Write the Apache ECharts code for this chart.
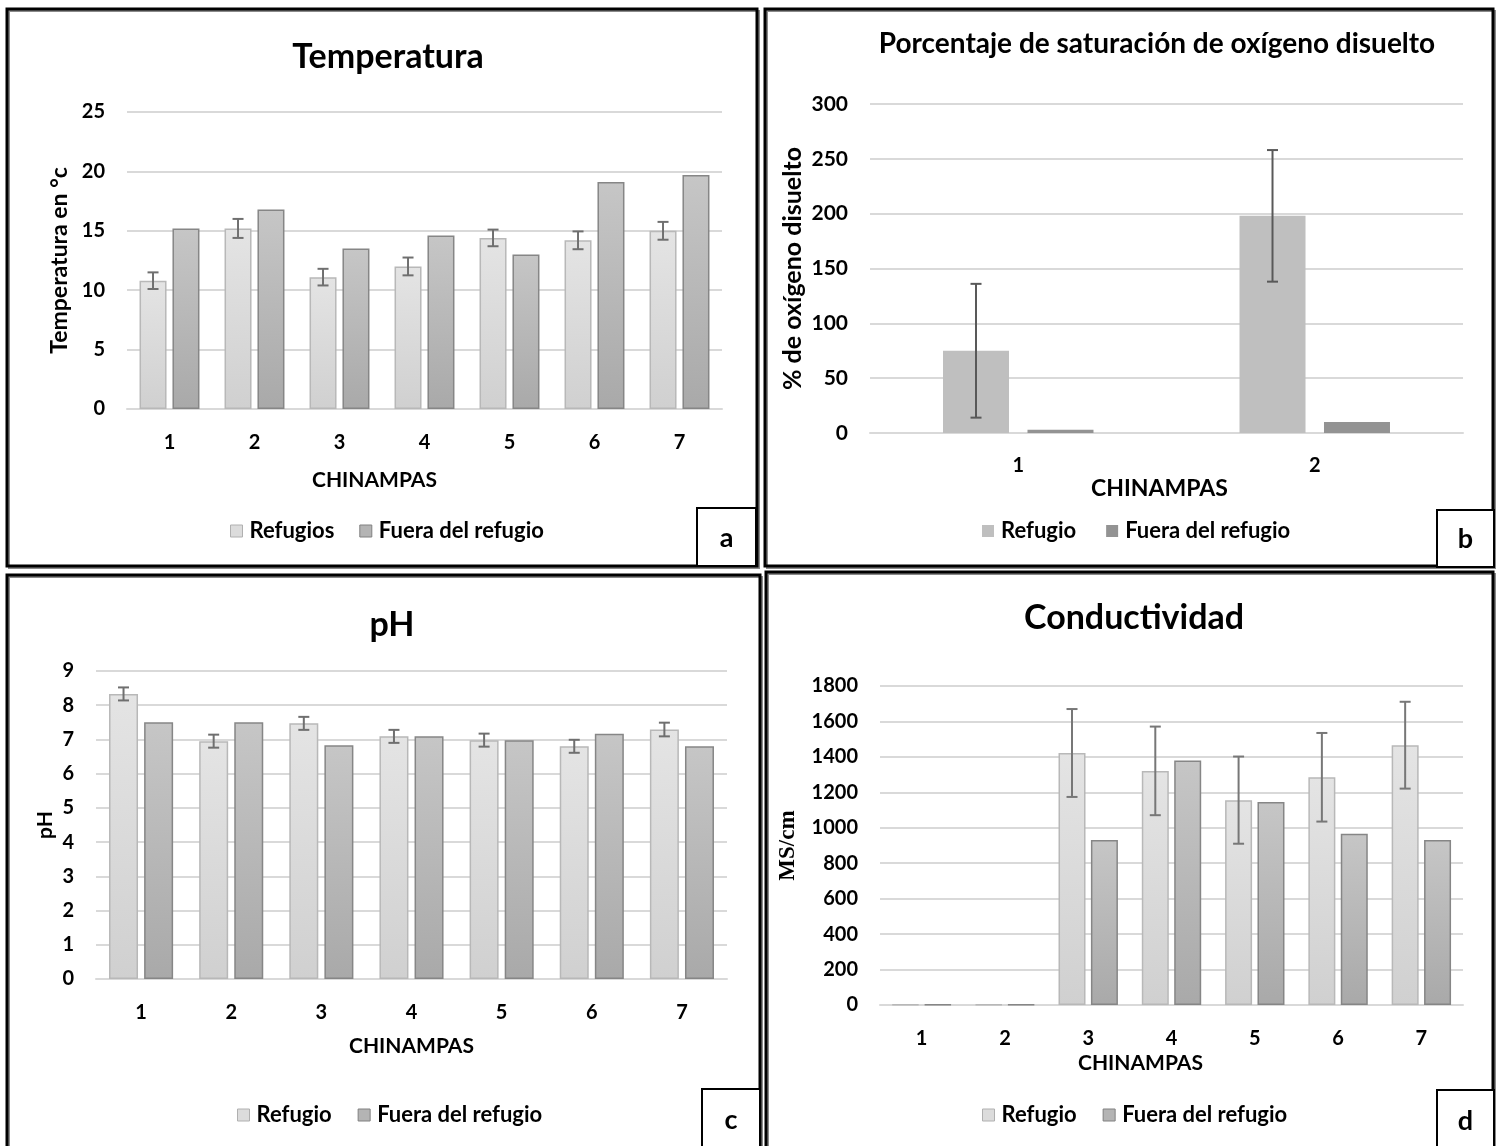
<!DOCTYPE html>
<html>
<head>
<meta charset="utf-8">
<script src="https://cdn.jsdelivr.net/npm/echarts@6/dist/echarts.min.js"></script>
<style>
  html, body { margin: 0; padding: 0; background: #fff; }
  #chart { width: 1496px; height: 1146px; }
</style>
</head>
<body>
<div id="chart"></div>
<script>
// ---------------- DATA ----------------
const chinampas7 = ['1', '2', '3', '4', '5', '6', '7'];
const chinampas2 = ['1', '2'];

// a) Temperatura
const tempRefugios = [10.8, 15.2, 11.1, 12.0, 14.4, 14.2, 15.0];
const tempRefugiosErr = [0.7, 0.8, 0.7, 0.75, 0.7, 0.75, 0.75];
const tempFuera = [15.2, 16.8, 13.5, 14.6, 13.0, 19.1, 19.7];
const tempTicks = { min: 0, max: 25, interval: 5 };

// b) Porcentaje de saturación de oxígeno disuelto
const oxiRefugio = [75, 198];
const oxiRefugioErr = [61, 60];
const oxiFuera = [3, 10];
const oxiTicks = { min: 0, max: 300, interval: 50 };

// c) pH
const phRefugio = [8.33, 6.95, 7.47, 7.09, 6.98, 6.80, 7.29];
const phRefugioErr = [0.19, 0.19, 0.19, 0.19, 0.19, 0.19, 0.2];
const phFuera = [7.5, 7.5, 6.83, 7.09, 6.98, 7.17, 6.8];
const phTicks = { min: 0, max: 9, interval: 1 };

// d) Conductividad
const condRefugio = [3, 3, 1422, 1321, 1156, 1285, 1466];
const condRefugioErr = [0, 0, 248, 250, 246, 250, 245];
const condFuera = [3, 3, 931, 1379, 1146, 966, 931];
const condTicks = { min: 0, max: 1800, interval: 200 };

// ---------------- STYLE ----------------
const FONT = 'Lato, "Open Sans", sans-serif';
const GRID_COLOR = '#d9d9d9';

function grad(top, bottom) {
  return new echarts.graphic.LinearGradient(0, 0, 0, 1, [
    { offset: 0, color: top }, { offset: 1, color: bottom }
  ]);
}
const lightBar = () => ({ color: grad('#e4e4e4', '#d0d0d0'), borderColor: '#b8b8b8', borderWidth: 1.5 });
const darkBar = () => ({ color: grad('#c6c6c6', '#a9a9a9'), borderColor: '#868686', borderWidth: 1.5 });

const option = {
  animation: false,
  backgroundColor: '#fff',
  title: [], legend: [], grid: [], xAxis: [], yAxis: [], series: [], graphic: []
};

function addPanel(p) {
  const gi = option.grid.length;
  option.grid.push({ left: p.grid[0], top: p.grid[1], width: p.grid[2], height: p.grid[3], outerBoundsMode: 'none', containLabel: false });
  option.title.push({
    text: p.title, left: p.titlePos[0], top: p.titlePos[1], textAlign: 'center',
    textStyle: { fontFamily: FONT, fontWeight: p.titleWeight || 'bold', fontSize: p.titleSize, color: '#000' }
  });
  option.xAxis.push({
    type: 'category', gridIndex: gi, data: p.cats,
    name: 'CHINAMPAS', nameLocation: 'middle', nameGap: p.xNameGap,
    nameTextStyle: { fontFamily: FONT, fontWeight: 'bold', fontSize: p.xNameSize, color: '#000', padding: p.xNamePad },
    axisLine: { show: true, lineStyle: { color: GRID_COLOR, width: 2 } },
    axisTick: { show: false },
    axisLabel: { fontFamily: FONT, fontWeight: 'bold', fontSize: 20, color: '#000', margin: p.xLabelMargin }
  });
  option.yAxis.push({
    type: 'value', gridIndex: gi, min: p.ticks.min, max: p.ticks.max, interval: p.ticks.interval,
    name: p.yName, nameLocation: 'middle', nameGap: p.yNameGap,
    nameTextStyle: { fontFamily: p.yNameFont || FONT, fontWeight: 'bold', fontSize: p.yNameSize, color: '#000' },
    axisLine: { show: false }, axisTick: { show: false },
    splitLine: { lineStyle: { color: GRID_COLOR, width: 2 } },
    axisLabel: { fontFamily: FONT, fontWeight: 'bold', fontSize: p.yLabelSize, color: '#000', margin: 22,
      formatter: v => String(v) }
  });
  option.series.push({
    type: 'bar', name: p.names[0], xAxisIndex: gi, yAxisIndex: gi, data: p.s1,
    barWidth: p.barWidth, barGap: p.barGap, itemStyle: p.style1, z: 2
  });
  option.series.push({
    type: 'bar', name: p.names[1], xAxisIndex: gi, yAxisIndex: gi, data: p.s2,
    barWidth: p.barWidth, barGap: p.barGap, itemStyle: p.style2, z: 2
  });
  const gapPx = p.barWidth * parseFloat(p.barGap) / 100;
  const off = (p.barWidth + gapPx) / 2;
  const errData = p.s1.map((v, i) => [i, v - p.err[i], v + p.err[i]]);
  option.series.push({
    type: 'custom', name: 'err' + gi, xAxisIndex: gi, yAxisIndex: gi, z: 5,
    encode: { x: 0, y: [1, 2] },
    data: errData,
    renderItem: function (params, api) {
      const i = api.value(0), lo = api.value(1), hi = api.value(2);
      if (hi - lo <= 0) return;
      const a = api.coord([i, hi]), b = api.coord([i, lo]);
      const x = a[0] - off, c = 5.5;
      const st = { stroke: p.errColor, lineWidth: 2 };
      return {
        type: 'group', children: [
          { type: 'line', shape: { x1: x, y1: a[1], x2: x, y2: b[1] }, style: st },
          { type: 'line', shape: { x1: x - c, y1: a[1], x2: x + c, y2: a[1] }, style: st },
          { type: 'line', shape: { x1: x - c, y1: b[1], x2: x + c, y2: b[1] }, style: st }
        ]
      };
    }
  });
  option.legend.push({
    left: p.legendPos[0], top: p.legendPos[1], itemWidth: 12, itemHeight: 12, itemGap: p.legendGap,
    icon: 'rect', selectedMode: false,
    textStyle: { fontFamily: FONT, fontWeight: 'bold', fontSize: 22, color: '#000', padding: [0, 0, 0, 2] },
    data: [
      { name: p.names[0], itemStyle: p.legendStyle1 },
      { name: p.names[1], itemStyle: p.legendStyle2 }
    ]
  });
  // panel frame
  const f = p.frame;
  option.graphic.push({ type: 'rect', shape: { x: f[0] + 2, y: f[1] + 2, width: f[2], height: f[3] }, style: { fill: null, stroke: '#8a8a8a', lineWidth: 2 }, z: 0, silent: true });
  option.graphic.push({ type: 'rect', shape: { x: f[0], y: f[1], width: f[2], height: f[3] }, style: { fill: null, stroke: '#000', lineWidth: 3 }, z: 1, silent: true });
  const L = p.letterBox;
  option.graphic.push({ type: 'rect', shape: { x: L[0], y: L[1], width: L[2], height: L[3] }, style: { fill: '#fff', stroke: '#000', lineWidth: 2 }, z: 2, silent: true });
  option.graphic.push({ type: 'text', x: L[0] + L[2] / 2, y: L[1] + L[3] / 2 + 1, style: { text: p.letter, fontFamily: FONT, fontWeight: 'bold', fontSize: 27, fill: '#000', align: 'center', verticalAlign: 'middle' }, z: 3, silent: true });
}

addPanel({
  title: 'Temperatura', titlePos: [383, 35], titleSize: 34,
  grid: [127, 112, 595, 297], cats: chinampas7, ticks: tempTicks,
  yName: 'Temperatura en °c', yNameGap: 56, yNameSize: 23, yLabelSize: 20,
  xNameGap: 61, xNameSize: 21, xNamePad: [0, 100, 0, 0], xLabelMargin: 24,
  names: ['Refugios', 'Fuera del refugio'], s1: tempRefugios, err: tempRefugiosErr, s2: tempFuera,
  barWidth: 27, barGap: '22%', style1: lightBar(), style2: darkBar(), errColor: '#6f6f6f',
  legendPos: [225, 515], legendGap: 25,
  legendStyle1: { color: '#dcdcdc', borderColor: '#b0b0b0', borderWidth: 1 },
  legendStyle2: { color: '#b4b4b4', borderColor: '#808080', borderWidth: 1 },
  frame: [7, 9, 750, 557], letterBox: [697, 508, 59, 58], letter: 'a'
});

addPanel({
  title: 'Porcentaje de saturación de oxígeno disuelto', titlePos: [1152, 25], titleSize: 28, titleWeight: 'bold',
  grid: [870, 104, 593, 329], cats: chinampas2, ticks: oxiTicks,
  yName: '% de oxígeno disuelto', yNameGap: 65, yNameSize: 25, yLabelSize: 21,
  xNameGap: 43, xNameSize: 23, xNamePad: [0, 14, 0, 0], xLabelMargin: 23,
  names: ['Refugio', 'Fuera del refugio'], s1: oxiRefugio, err: oxiRefugioErr, s2: oxiFuera,
  barWidth: 66, barGap: '28%', style1: { color: '#bfbfbf' }, style2: { color: '#939393' }, errColor: '#595959',
  legendPos: [977, 515], legendGap: 30,
  legendStyle1: { color: '#bfbfbf', borderWidth: 0 },
  legendStyle2: { color: '#939393', borderWidth: 0 },
  frame: [765, 9, 728, 557], letterBox: [1437, 510, 57, 57], letter: 'b'
});

addPanel({
  title: 'pH', titlePos: [387, 603], titleSize: 34,
  grid: [96, 671, 631, 308], cats: chinampas7, ticks: phTicks,
  yName: 'pH', yNameGap: 40, yNameSize: 21, yLabelSize: 20,
  xNameGap: 57, xNameSize: 21, xNamePad: [0, 0, 0, 0], xLabelMargin: 24,
  names: ['Refugio', 'Fuera del refugio'], s1: phRefugio, err: phRefugioErr, s2: phFuera,
  barWidth: 29, barGap: '21%', style1: lightBar(), style2: darkBar(), errColor: '#6f6f6f',
  legendPos: [232, 1099], legendGap: 26,
  legendStyle1: { color: '#dcdcdc', borderColor: '#b0b0b0', borderWidth: 1 },
  legendStyle2: { color: '#b4b4b4', borderColor: '#808080', borderWidth: 1 },
  frame: [7, 575, 753, 580], letterBox: [702, 1089, 58, 60], letter: 'c'
});

addPanel({
  title: 'Conductividad', titlePos: [1129, 596], titleSize: 34,
  grid: [880, 686, 583, 319], cats: chinampas7, ticks: condTicks,
  yName: 'MS/cm', yNameGap: 80, yNameSize: 23, yNameFont: '"Liberation Serif", "DejaVu Serif", serif', yLabelSize: 20,
  xNameGap: 48, xNameSize: 21, xNamePad: [0, 62, 0, 0], xLabelMargin: 24,
  names: ['Refugio', 'Fuera del refugio'], s1: condRefugio, err: condRefugioErr, s2: condFuera,
  barWidth: 27, barGap: '20%', style1: lightBar(), style2: darkBar(), errColor: '#777777',
  legendPos: [977, 1099], legendGap: 26,
  legendStyle1: { color: '#dcdcdc', borderColor: '#b0b0b0', borderWidth: 1 },
  legendStyle2: { color: '#b4b4b4', borderColor: '#808080', borderWidth: 1 },
  frame: [766, 572, 727, 580], letterBox: [1437, 1090, 57, 60], letter: 'd'
});

const chart = echarts.init(document.getElementById('chart'), null, { renderer: 'canvas' });
chart.setOption(option);
</script>
</body>
</html>
